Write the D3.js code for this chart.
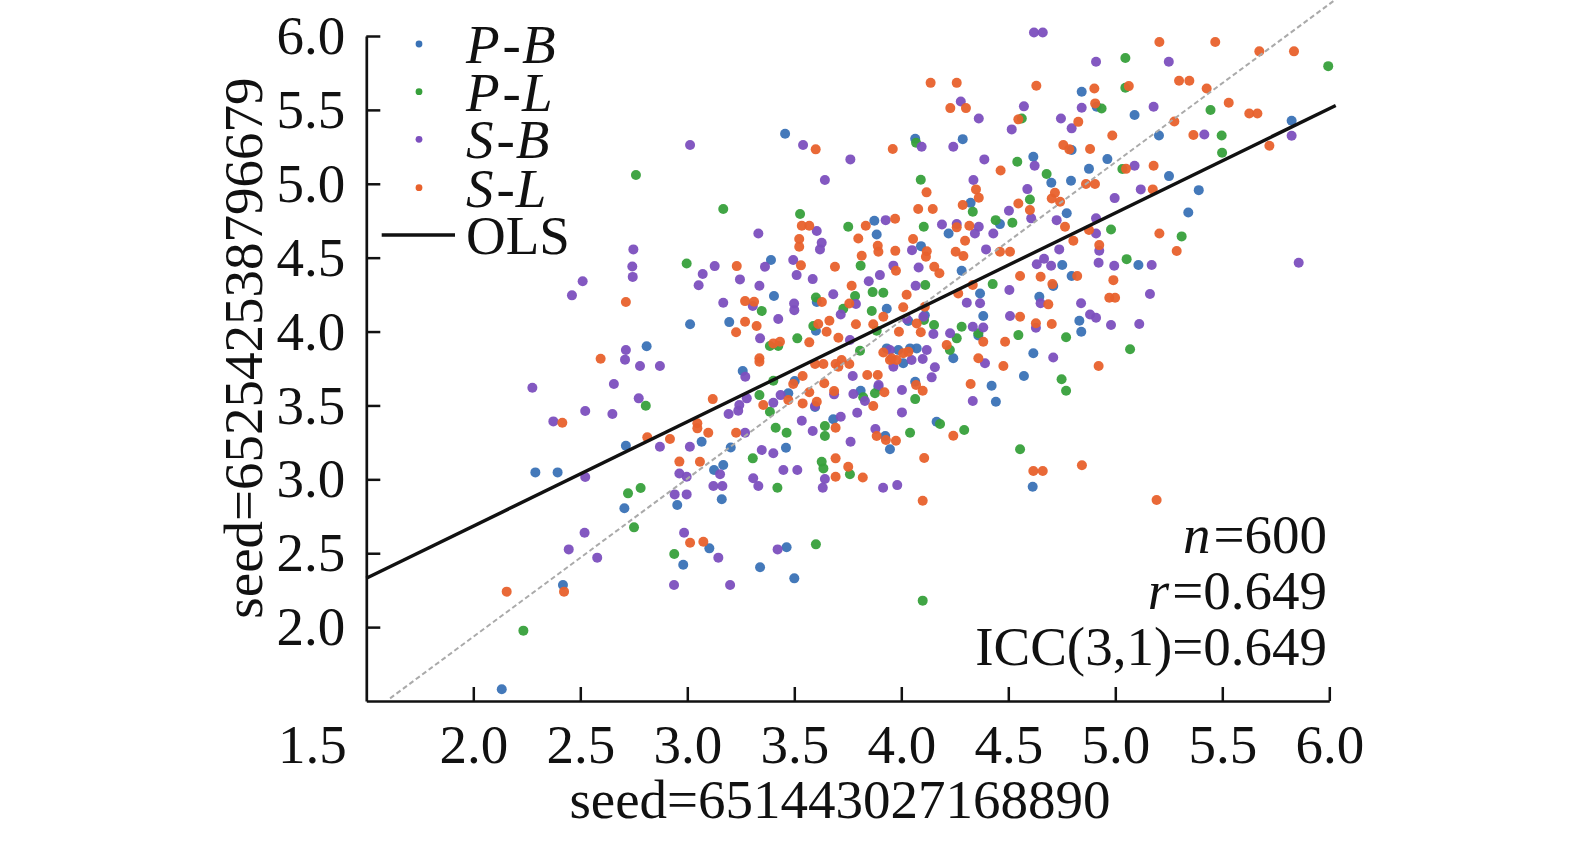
<!DOCTYPE html>
<html>
<head>
<meta charset="utf-8">
<script src="https://cdn.jsdelivr.net/npm/d3@7"></script>
<style>
  html, body { margin: 0; padding: 0; background: #fff; }
  svg { display: block; }
</style>
</head>
<body>
<svg id="chart" width="1575" height="841"></svg>
<script>
// Tick values
const xTicks = [2.0, 2.5, 3.0, 3.5, 4.0, 4.5, 5.0, 5.5, 6.0];
const yTicks = [2.0, 2.5, 3.0, 3.5, 4.0, 4.5, 5.0, 5.5, 6.0];
const xCornerLabel = '1.5';

// Axis titles
const xTitle = 'seed=651443027168890';
const yTitle = 'seed=652542538796679';

// Legend / series names
const seriesNames = ['P-B', 'P-L', 'S-B', 'S-L'];
const seriesColors = ['#3a72b6', '#37a03b', '#7c4fbe', '#e8612c'];

// Summary stats shown bottom-right
const statN = '600';
const statR = '0.649';
const statICC = '0.649';

// OLS fit line endpoints
const olsLine = [[1.5, 2.33], [6.03, 5.53]];
// Dashed reference line endpoints
const refLine = [[1.611, 1.518], [6.06, 6.28]];

// P-B points
const pbPoints = [
    [3.013,4.05],[2.81,3.90],
    [2.713,3.227],[2.29,3.047],[2.394,3.047],[2.953,2.826],[2.706,2.804],[2.981,2.422],[2.419,2.285],[2.133,1.58],
    [3.457,5.339],[4.065,5.305],[4.287,5.302],[4.324,4.871],[3.874,4.75],[3.885,4.657],[4.461,4.727],[4.221,4.664],
    [4.092,4.578],[3.391,4.484],[4.282,4.411],[3.405,4.24],[3.605,4.2],[3.932,4.154],[3.196,4.064],[3.601,4.005],
    [4.033,4.071],[4.36,3.974],[3.932,3.886],[3.986,3.875],[4.041,3.886],[4.072,3.886],[4.243,3.819],
    [4.11,4.11],[4.368,4.258],[4.383,4.105],[3.893,3.627],[3.597,3.49],
    [4.843,5.623],[4.913,5.522],[5.09,5.465],[5.824,5.426],[5.204,5.327],[4.796,5.228],[4.963,5.167],[4.617,5.183],
    [4.877,5.101],[5.251,5.052],[4.701,5.007],[4.793,5.02],[5.39,4.957],[5.341,4.806],[4.773,4.8],[4.752,4.45],
    [5.108,4.45],[4.71,4.308],[4.796,4.376],[4.645,4.236],[4.832,4.073],[4.841,3.999],[4.617,3.853],
    [4.573,3.699],[4.614,2.95],
    [3.259,3.733],[3.472,3.582],[3.502,3.665],[3.81,3.6],[4.009,3.785],[4.065,3.66],[4.422,3.633],[4.442,3.525],
    [4.165,3.39],[3.067,3.254],[3.203,3.216],[3.461,3.214],[3.682,3.406],[3.925,3.293],[3.947,3.203],[3.125,3.063],
    [3.168,3.097],[3.161,2.865],[3.103,2.533],[3.464,2.54],[3.34,2.405],[3.5,2.33]
];

// P-L points
const plPoints = [
    [2.76,5.06],[2.997,4.46],
    [2.806,3.498],[2.782,2.941],[2.723,2.905],[2.751,2.675],[2.939,2.495],[2.234,1.976],
    [4.069,5.278],[4.542,5.149],[4.091,5.027],[3.168,4.829],[4.334,4.811],[3.527,4.795],[3.752,4.709],[4.105,4.709],
    [4.441,4.754],[4.519,4.736],[3.81,4.446],[4.427,4.321],[4.112,4.315],[3.348,4.139],[3.601,4.231],[3.784,4.24],
    [3.866,4.267],[3.916,4.263],[3.729,4.154],[3.862,4.139],[3.514,3.954],[3.885,4.005],[4.106,4.078],[4.153,4.044],
    [4.282,4.032],[4.259,3.954],[4.547,3.976],[3.386,3.902],[3.425,3.902],[3.807,3.87],[4.227,3.875],
    [3.589,4.037],[4.36,3.988],
    [5.047,5.851],[5.995,5.796],[5.047,5.65],[4.936,5.51],[5.445,5.499],[4.563,5.442],[5.497,5.327],[5.499,5.21],
    [5.033,5.1],[4.679,5.066],[4.601,4.894],[4.98,4.691],[5.31,4.644],[5.053,4.49],[4.77,3.961],[5.069,3.88],
    [4.749,3.677],[4.77,3.6],[4.555,3.203],
    [3.402,3.667],[3.337,3.57],[3.386,3.457],[3.822,3.555],[3.877,3.582],[4.065,3.543],[4.181,3.374],[4.294,3.334],
    [3.413,3.349],[3.464,3.315],[3.306,3.142],[3.643,3.361],[3.643,3.293],[4.041,3.315],[3.421,2.943],[3.628,3.119],
    [3.636,3.074],[3.76,3.034],[3.601,2.56],[4.1,2.179]
];

// S-B points
const sbPoints = [
    [3.013,5.262],[2.748,4.556],[2.743,4.44],[2.745,4.37],[2.511,4.34],[2.461,4.245],[2.713,3.875],[2.709,3.81],
    [2.779,3.767],[2.872,3.767],[2.276,3.62],[2.657,3.645],[2.773,3.548],[2.523,3.462],[2.65,3.442],[2.374,3.392],
    [2.872,3.221],[3.012,3.22],[2.963,3.04],[2.997,3.018],[2.523,3.016],[2.941,2.898],[2.997,2.898],[2.52,2.639],
    [2.985,2.639],[2.446,2.526],[2.579,2.47],[2.938,2.285],
    [4.278,5.557],[4.362,5.442],[4.516,5.368],[3.541,5.262],[4.095,5.25],[4.243,5.25],[3.762,5.165],[4.388,5.165],
    [3.643,5.025],[4.337,5.025],[4.503,4.817],[3.605,4.68],[3.332,4.664],[3.927,4.754],[4.19,4.725],[4.259,4.727],
    [4.344,4.664],[4.362,4.709],[4.43,4.664],[3.628,4.601],[3.62,4.556],[4.05,4.551],[4.396,4.556],[3.495,4.484],
    [3.363,4.438],[3.963,4.446],[4.081,4.434],[3.128,4.443],[3.072,4.389],[3.053,4.313],[3.246,4.353],[3.337,4.31],
    [3.511,4.382],[3.586,4.355],[3.9,4.382],[3.848,4.34],[4.505,4.281],[4.067,4.31],[3.168,4.195],[3.306,4.173],
    [3.499,4.19],[3.5,4.145],[3.682,4.252],[3.788,4.186],[3.717,4.116],[3.425,4.085],[3.34,3.954],[4.025,4.085],
    [4.103,4.1],[4.15,3.983],[4.228,3.988],[4.334,4.032],[4.383,4.027],[3.76,3.943],[3.947,3.875],[4.119,3.875],
    [4.368,4.191],[4.306,4.195],[4.508,4.105],[4.1,3.814],
    [4.62,6.024],[4.661,6.024],[4.91,5.826],[5.25,5.826],[4.573,5.524],[4.843,5.514],[5.179,5.521],[4.746,5.442],
    [4.796,5.375],[5.824,5.325],[5.416,5.334],[4.623,5.122],[5.09,5.122],[4.589,4.964],[4.607,4.766],[4.997,4.903],
    [5.119,4.962],[4.726,4.754],[4.91,4.766],[4.91,4.664],[5.857,4.466],[4.925,4.547],[4.738,4.556],[4.667,4.493],
    [4.633,4.455],[4.7,4.445],[4.922,4.466],[4.995,4.445],[5.17,4.45],[5.162,4.254],[4.651,4.191],[4.84,4.191],
    [4.882,4.116],[4.91,4.093],[4.629,4.026],[4.98,4.044],[5.112,4.051],[4.71,3.825],
    [3.271,3.694],[3.278,3.548],[3.243,3.503],[3.238,3.464],[3.193,3.442],[3.402,3.518],[3.436,3.57],[3.597,3.496],
    [3.686,3.575],[3.773,3.699],[3.894,3.638],[3.776,3.577],[3.83,3.53],[3.963,3.762],[4.048,3.807],[4.157,3.758],
    [4.142,3.69],[4.003,3.604],[4.003,3.453],[4.391,3.785],[4.334,3.53],[3.27,3.315],[3.402,3.176],[3.348,3.198],
    [3.535,3.396],[3.586,3.327],[3.717,3.424],[3.794,3.451],[3.763,3.254],[3.879,3.34],[3.153,3.034],[3.122,2.955],
    [3.164,2.955],[3.308,3.007],[3.332,2.955],[3.449,3.063],[3.514,3.063],[3.643,3.002],[3.633,2.943],[3.915,2.943],
    [3.981,2.961],[3.145,2.47],[3.422,2.526],[3.2,2.285]
];

// S-L points
const slPoints = [
    [2.713,4.20],[2.595,3.816],
    [2.416,3.383],[2.813,3.284],[2.919,3.273],[2.963,3.12],[3.013,2.571],[2.424,2.24],[2.156,2.24],
    [4.137,5.683],[4.259,5.683],[4.229,5.512],[4.302,5.512],[4.547,5.436],[3.6,5.233],[3.96,5.235],[4.464,5.09],
    [4.349,4.962],[4.362,4.905],[4.118,4.942],[4.079,4.829],[4.147,4.829],[4.287,4.856],[4.547,4.867],[3.535,4.716],
    [3.57,4.716],[3.971,4.763],[3.834,4.716],[4.259,4.705],[4.318,4.716],[3.523,4.626],[3.523,4.574],[3.799,4.63],
    [3.89,4.58],[3.893,4.54],[3.972,4.546],[4.055,4.626],[4.119,4.543],[4.115,4.506],[4.298,4.614],[4.254,4.54],
    [4.29,4.511],[4.461,4.54],[4.508,4.54],[3.531,4.448],[3.815,4.513],[3.69,4.438],[3.975,4.411],[4.154,4.438],
    [4.178,4.394],[3.231,4.443],[3.768,4.31],[4.334,4.315],[3.27,4.206],[3.312,4.202],[3.629,4.2],[3.757,4.19],
    [4.025,4.249],[3.916,4.1],[3.27,4.066],[3.324,4.037],[3.228,3.995],[3.57,3.927],[3.612,4.051],[3.651,3.999],
    [3.664,4.073],[3.706,3.958],[3.788,4.049],[3.869,4.049],[4.072,4.055],[3.989,3.999],[4.091,3.995],[4.212,3.909],
    [4.383,3.931],[4.485,3.931],[3.402,3.92],[3.433,3.931],[3.337,3.819],[3.916,3.858],[4.009,3.853],[4.033,3.864],
    [4.36,3.819],
    [4.009,4.165],[4.11,4.168],[4.266,4.258],[3.955,3.819],[3.978,3.807],[3.721,3.807],[3.706,3.762],
    [5.206,5.959],[5.467,5.959],[5.673,5.896],[5.835,5.896],[4.631,5.663],[4.902,5.645],[5.063,5.661],[5.298,5.697],
    [5.346,5.697],[5.427,5.645],[4.906,5.544],[5.53,5.548],[5.626,5.476],[5.664,5.476],[4.827,5.419],[5.276,5.422],
    [5.72,5.257],[4.986,5.327],[5.365,5.33],[4.757,5.262],[4.785,5.233],[4.882,5.235],[5.05,5.101],[5.179,5.122],
    [4.863,4.998],[4.905,4.998],[4.601,4.822],[4.703,4.9],[4.718,4.939],[4.742,4.878],[5.175,4.962],[4.765,4.709],
    [4.877,4.687],[5.206,4.664],[5.287,4.545],[4.804,4.614],[4.925,4.585],[4.651,4.371],[4.555,4.376],[4.706,4.321],
    [4.822,4.376],[4.991,4.348],[4.972,4.229],[4.999,4.229],[4.687,4.184],[4.555,4.1],[4.629,4.056],[4.703,4.051],
    [4.922,3.767],[4.617,3.056],[4.661,3.056],[4.844,3.095],[5.193,2.86],
    [3.337,3.796],[3.119,3.543],[3.355,3.503],[3.472,3.537],[3.495,3.645],[3.539,3.699],[3.539,3.514],[3.605,3.525],
    [3.57,3.589],[3.64,3.65],[3.686,3.597],[3.597,3.78],[3.636,3.78],[3.693,3.78],[3.757,3.78],[3.841,3.706],
    [3.89,3.706],[3.921,3.589],[3.869,3.496],[3.947,3.807],[4.069,3.638],[4.1,3.6],[4.477,3.767],[4.324,3.645],
    [4.243,3.295],[3.047,3.379],[3.047,3.345],[3.098,3.315],[3.059,3.119],[3.228,3.315],[3.693,3.349],[3.885,3.293],
    [3.928,3.266],[3.975,3.261],[4.107,3.144],[4.1,2.855],[3.693,3.142],[3.693,3.018],[3.752,3.085],[3.82,3.013],
    [3.075,2.578]
];

const allSeries = [pbPoints, plPoints, sbPoints, slPoints];

// Layout
const plot = { left: 366.3, right: 1329.3, top: 36, bottom: 701 };
const fontSize = 55;
const fontFamily = '"Liberation Serif"';
const ink = '#111';

const svg = d3.select('#chart');

// Helper so every label gets the serif face explicitly
function addText(parent, x, y) {
    return parent.append('text')
        .attr('x', x)
        .attr('y', y)
        .attr('fill', ink)
        .style('font-family', fontFamily)
        .style('font-size', fontSize + 'px');
}

const xScale = d3.scaleLinear().domain([1.5, 6.0]).range([plot.left, plot.right]);
const yScale = d3.scaleLinear().domain([1.5, 6.0]).range([plot.bottom, plot.top]);

// Scatter points, one group per series (drawn in legend order)
allSeries.forEach((pts, i) => {
    svg.append('g')
        .selectAll('circle')
        .data(pts)
        .enter()
        .append('circle')
        .attr('cx', d => xScale(d[0]))
        .attr('cy', d => yScale(d[1]))
        .attr('r', 5)
        .attr('fill', seriesColors[i])
        .attr('fill-opacity', 0.95);
});

const line = d3.line().x(d => xScale(d[0])).y(d => yScale(d[1]));

// Dashed reference line
svg.append('path')
    .attr('d', line(refLine))
    .attr('fill', 'none')
    .attr('stroke', '#aaaaaa')
    .attr('stroke-width', 2)
    .attr('stroke-dasharray', '5,3');

// OLS line
svg.append('path')
    .attr('d', line(olsLine))
    .attr('fill', 'none')
    .attr('stroke', '#111')
    .attr('stroke-width', 3.4);

// Axes
const xAxis = d3.axisBottom(xScale)
    .tickValues(xTicks)
    .tickSizeInner(-14)
    .tickSizeOuter(0)
    .tickPadding(23)
    .tickFormat(d3.format('.1f'));

const yAxis = d3.axisLeft(yScale)
    .tickValues(yTicks)
    .tickSizeInner(-14)
    .tickSizeOuter(0)
    .tickPadding(21)
    .tickFormat(d3.format('.1f'));

const gx = svg.append('g')
    .attr('transform', `translate(0, ${plot.bottom})`)
    .call(xAxis);

const gy = svg.append('g')
    .attr('transform', `translate(${plot.left}, 0)`)
    .call(yAxis);

[gx, gy].forEach(g => {
    g.attr('font-family', null).attr('font-size', null);
    g.select('.domain').attr('stroke', ink).attr('stroke-width', 2.7);
    g.selectAll('.tick line').attr('stroke', ink).attr('stroke-width', 2.5);
    g.selectAll('.tick text')
        .attr('fill', ink)
        .style('font-family', fontFamily)
        .style('font-size', fontSize + 'px');
});

// Corner "1.5" label sits left of the x axis origin
addText(svg, xScale(1.5) - 54, 763)
    .attr('text-anchor', 'middle')
    .text(xCornerLabel);

// Axis titles
addText(svg, 840, 818)
    .attr('text-anchor', 'middle')
    .text(xTitle);

addText(svg, 0, 0)
    .attr('transform', 'translate(262, 348) rotate(-90)')
    .attr('text-anchor', 'middle')
    .text(yTitle);

// Legend
const legend = svg.append('g');
const legendRows = [44, 91.7, 139.3, 187.7];
seriesNames.forEach((name, i) => {
    legend.append('circle')
        .attr('cx', 419)
        .attr('cy', legendRows[i])
        .attr('r', 3.4)
        .attr('fill', seriesColors[i]);
    const parts = name.split('-');
    const t = addText(legend, 466, legendRows[i] + 19);
    t.append('tspan').style('font-style', 'italic').text(parts[0]);
    t.append('tspan').attr('dx', 3).text('-');
    t.append('tspan').attr('dx', 1).style('font-style', 'italic').text(parts[1]);
});
legend.append('line')
    .attr('x1', 381.7).attr('x2', 455)
    .attr('y1', 235).attr('y2', 235)
    .attr('stroke', '#111')
    .attr('stroke-width', 3.4);
addText(legend, 466, 254).text('OLS');

// Stats annotation
const s1 = addText(svg, 1327, 553).attr('text-anchor', 'end');
s1.append('tspan').style('font-style', 'italic').text('n');
s1.append('tspan').attr('dx', 3).text('=' + statN);

const s2 = addText(svg, 1327, 609).attr('text-anchor', 'end');
s2.append('tspan').style('font-style', 'italic').text('r');
s2.append('tspan').attr('dx', 3).text('=' + statR);

addText(svg, 1327, 665).attr('text-anchor', 'end').text('ICC(3,1)=' + statICC);
</script>
</body>
</html>
